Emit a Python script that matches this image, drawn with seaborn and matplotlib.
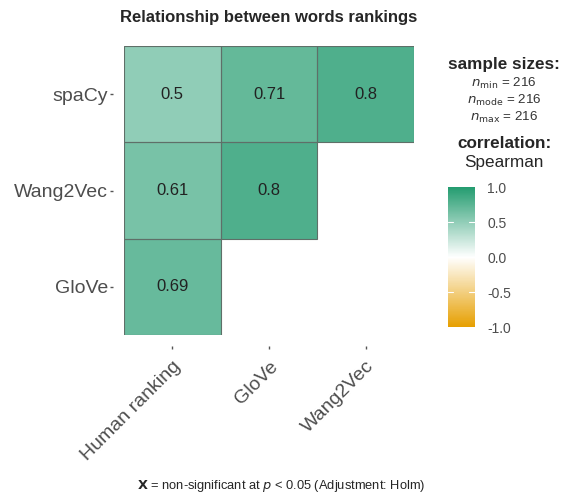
import numpy as np
import pandas as pd
import seaborn as sns
from matplotlib import pyplot as plt
from matplotlib.colors import LinearSegmentedColormap
from matplotlib.patches import Rectangle

sns.set_style('white')
plt.rcParams['font.family'] = ['Liberation Sans', 'DejaVu Sans']

row_labels = ['spaCy', 'Wang2Vec', 'GloVe']
col_labels = ['Human ranking', 'GloVe', 'Wang2Vec']
spacy_r = [0.5, 0.71, 0.8]
wang_r = [0.61, 0.8, np.nan]
glove_r = [0.69, np.nan, np.nan]
n_sizes = {'min': 216, 'mode': 216, 'max': 216}
cbar_ticks = [-1.0, -0.5, 0.0, 0.5, 1.0]

corr = pd.DataFrame([spacy_r, wang_r, glove_r], index=row_labels, columns=col_labels)

cmap = LinearSegmentedColormap.from_list('ggstat', ['#E69F00', '#FFFFFF', '#249C70'])

fig = plt.figure(figsize=(5.62, 4.95), dpi=100)
ax = fig.add_axes([0.2206, 0.3232, 0.5161, 0.5838])
cax = fig.add_axes([0.797, 0.339, 0.048, 0.283])

sns.heatmap(corr, ax=ax, cmap=cmap, vmin=-1, vmax=1, mask=corr.isna(),
            annot=True, fmt='g', annot_kws={'fontsize': 12, 'color': '#222222'},
            cbar_ax=cax, cbar_kws={'ticks': cbar_ticks})

# cell borders only around the drawn (lower-triangle) cells
for i, j in zip(*np.where(corr.notna().values)):
    ax.add_patch(Rectangle((j, i), 1, 1, fill=False, ec='#5f6f68', lw=0.8, zorder=3))

# ggplot-style panel: ticks sit a little outside the tiles
for side in ['left', 'bottom']:
    ax.spines[side].set_position(('outward', 8))
    ax.spines[side].set_visible(False)

ax.tick_params(axis='both', length=2.5, width=1, color='#555555', labelsize=14, labelcolor='#4d4d4d')
ax.tick_params(axis='y', left=True, pad=1)
ax.tick_params(axis='x', bottom=True, pad=6)
ax.set_yticklabels(row_labels, rotation=0)
ax.set_xticklabels(col_labels, rotation=45, ha='right', rotation_mode='anchor')
ax.set_xlabel('')
ax.set_ylabel('')
ax.set_title('Relationship between words rankings', fontsize=12, fontweight='bold', pad=17)

cax.tick_params(labelsize=10, labelcolor='#4d4d4d', length=0, pad=9)
cax.set_yticklabels([f'{t:.1f}' for t in cbar_ticks])
for t in cbar_ticks[1:-1]:
    cax.axhline(t, xmin=0, xmax=0.2, color='white', lw=0.8)
    cax.axhline(t, xmin=0.8, xmax=1, color='white', lw=0.8)
for s in cax.spines.values():
    s.set_visible(False)

x_leg = 0.897
fig.text(x_leg, 0.869, 'sample sizes:', ha='center', va='center', fontsize=12.3, fontweight='bold')
fig.text(x_leg, 0.832, f'$n_{{\\mathrm{{min}}}}$ = {n_sizes["min"]}', ha='center', va='center', fontsize=9.6, color='#333333')
fig.text(x_leg, 0.798, f'$n_{{\\mathrm{{mode}}}}$ = {n_sizes["mode"]}', ha='center', va='center', fontsize=9.6, color='#333333')
fig.text(x_leg, 0.762, f'$n_{{\\mathrm{{max}}}}$ = {n_sizes["max"]}', ha='center', va='center', fontsize=9.6, color='#333333')
fig.text(x_leg, 0.711, 'correlation:', ha='center', va='center', fontsize=12.3, fontweight='bold')
fig.text(x_leg, 0.671, 'Spearman', ha='center', va='center', fontsize=12.3)

fig.text(0.50, 0.018, r'$\mathbf{X}$ = non-significant at $p$ < 0.05 (Adjustment: Holm)',
         ha='center', va='center', fontsize=9.3)

fig.savefig('out.png', dpi=100)
